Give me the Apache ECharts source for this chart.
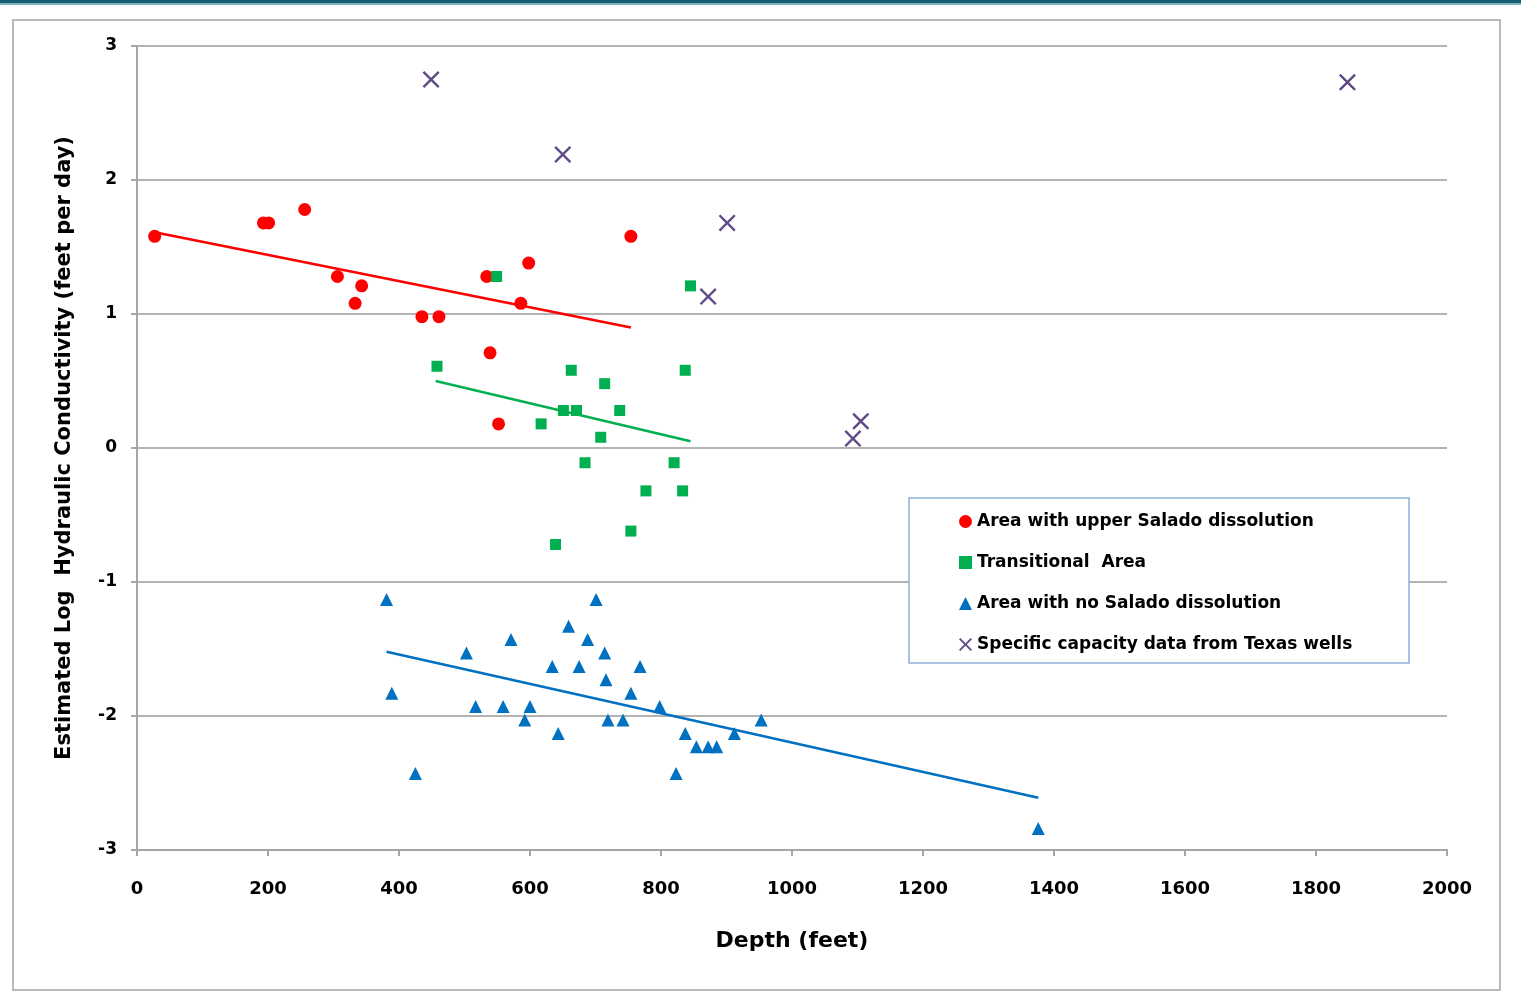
<!DOCTYPE html>
<html>
<head>
<meta charset="utf-8">
<script src="https://cdn.jsdelivr.net/npm/echarts@6/dist/echarts.min.js"></script>
<style>
html,body{margin:0;padding:0;background:#fff;}
#chart{width:1521px;height:995px;}
</style>
</head>
<body>
<div id="chart"></div>
<script>
// ---- Data ----
const seriesNames = [
  'Area with upper Salado dissolution',
  'Transitional  Area',
  'Area with no Salado dissolution',
  'Specific capacity data from Texas wells'
];

const redDepth = [27, 193, 201, 256, 306, 343, 333, 435, 461, 534, 598, 586, 539, 552, 754];
const redLogK  = [1.58, 1.68, 1.68, 1.78, 1.28, 1.21, 1.08, 0.98, 0.98, 1.28, 1.38, 1.08, 0.71, 0.18, 1.58];

const greenDepth = [549, 845, 458, 663, 837, 714, 651, 671, 737, 617, 708, 684, 820, 777, 833, 754, 639];
const greenLogK  = [1.28, 1.21, 0.61, 0.58, 0.58, 0.48, 0.28, 0.28, 0.28, 0.18, 0.08, -0.11, -0.11, -0.32, -0.32, -0.62, -0.72];

const blueDepth = [381, 701, 659, 571, 688, 503, 714, 634, 675, 768, 716, 389, 754, 517, 559, 600, 798, 592, 719, 742, 953, 643, 837, 912, 854, 872, 885, 425, 823, 1376];
const blueLogK  = [-1.13, -1.13, -1.33, -1.43, -1.43, -1.53, -1.53, -1.63, -1.63, -1.63, -1.73, -1.83, -1.83, -1.93, -1.93, -1.93, -1.93, -2.03, -2.03, -2.03, -2.03, -2.13, -2.13, -2.13, -2.23, -2.23, -2.23, -2.43, -2.43, -2.84];

const purpleDepth = [449, 650, 901, 872, 1848, 1093, 1105];
const purpleLogK  = [2.75, 2.19, 1.68, 1.13, 2.73, 0.07, 0.20];

// Linear trendline end points
const redTrendDepth = [27, 754];
const redTrendLogK  = [1.61, 0.90];
const greenTrendDepth = [456, 845];
const greenTrendLogK  = [0.50, 0.05];
const blueTrendDepth = [381, 1376];
const blueTrendLogK  = [-1.52, -2.61];

const xTicks = [0, 200, 400, 600, 800, 1000, 1200, 1400, 1600, 1800, 2000];
const yTicks = [-3, -2, -1, 0, 1, 2, 3];

// ---- helpers ----
const pairs = (xs, ys) => xs.map((x, i) => [x, ys[i]]);
const X_PATH = 'path://M0,1 L1,0 L5,4 L9,0 L10,1 L6,5 L10,9 L9,10 L5,6 L1,10 L0,9 L4,5 Z';

const FONT = '"DejaVu Sans", Verdana, sans-serif';
const colors = { red: '#ff0000', green: '#00b050', blue: '#0070c0', purple: '#5f4a86' };

const chart = echarts.init(document.getElementById('chart'), null, { renderer: 'canvas' });

const option = {
  animation: false,
  backgroundColor: '#ffffff',
  grid: { left: 137, right: 74, top: 46, bottom: 145, containLabel: false },
  graphic: [
    { type: 'rect', shape: { x: 0, y: 0, width: 1521, height: 3 }, style: { fill: '#175d76' }, silent: true },
    { type: 'rect', shape: { x: 0, y: 3, width: 1521, height: 2 }, style: { fill: '#7fb0bf' }, silent: true },
    { type: 'rect', shape: { x: 13, y: 20, width: 1487, height: 970 }, style: { fill: 'none', stroke: '#b9b9b9', lineWidth: 2 }, silent: true, z: -1 },
    { type: 'rect', shape: { x: 909, y: 498, width: 500, height: 165 }, style: { fill: '#ffffff', stroke: '#8eaedb', lineWidth: 1.5 }, silent: true, z: 5 }
  ],
  legend: {
    data: seriesNames,
    orient: 'vertical',
    left: 959,
    top: 513,
    padding: 0,
    itemGap: 24,
    itemWidth: 13,
    itemHeight: 13,
    z: 10,
    textStyle: { fontFamily: FONT, fontWeight: 'bold', fontSize: 17, color: '#000', lineHeight: 15 }
  },
  xAxis: {
    type: 'value',
    min: 0, max: 2000, interval: 200,
    name: 'Depth (feet)',
    nameLocation: 'middle',
    nameGap: 80,
    nameTextStyle: { fontFamily: FONT, fontWeight: 'bold', fontSize: 22, color: '#000' },
    axisLine: { show: true, onZero: false, lineStyle: { color: '#a6a6a6', width: 2 } },
    axisTick: { show: true, length: 6, lineStyle: { color: '#a6a6a6', width: 2 } },
    axisLabel: {
      margin: 30, fontFamily: FONT, fontWeight: 'bold', fontSize: 18, color: '#000',
      formatter: v => xTicks.includes(v) ? String(v) : ''
    },
    splitLine: { show: false }
  },
  yAxis: {
    type: 'value',
    min: -3, max: 3, interval: 1,
    name: 'Estimated Log  Hydraulic Conductivity (feet per day)',
    nameLocation: 'middle',
    nameGap: 62,
    nameTextStyle: { fontFamily: FONT, fontWeight: 'bold', fontSize: 21, color: '#000' },
    axisLine: { show: true, onZero: false, lineStyle: { color: '#a6a6a6', width: 2 } },
    axisTick: { show: true, length: 6, lineStyle: { color: '#a6a6a6', width: 2 } },
    axisLabel: {
      margin: 20, fontFamily: FONT, fontWeight: 'bold', fontSize: 17, color: '#000',
      formatter: v => yTicks.includes(v) ? String(v) : ''
    },
    splitLine: { show: true, lineStyle: { color: '#b3b3b3', width: 2 } }
  },
  series: [
    {
      name: seriesNames[0], type: 'scatter', symbol: 'circle', symbolSize: 13,
      itemStyle: { color: colors.red, opacity: 1 }, data: pairs(redDepth, redLogK), z: 3
    },
    {
      name: seriesNames[1], type: 'scatter', symbol: 'rect', symbolSize: 11,
      itemStyle: { color: colors.green, opacity: 1 }, data: pairs(greenDepth, greenLogK), z: 3
    },
    {
      name: seriesNames[2], type: 'scatter', symbol: 'triangle', symbolSize: 13,
      itemStyle: { color: colors.blue, opacity: 1 }, data: pairs(blueDepth, blueLogK), z: 3
    },
    {
      name: seriesNames[3], type: 'scatter', symbol: X_PATH, symbolSize: 17,
      itemStyle: { color: colors.purple, opacity: 1 }, data: pairs(purpleDepth, purpleLogK), z: 3
    },
    {
      name: 'redTrend', type: 'line', showSymbol: false, symbol: 'none',
      lineStyle: { color: colors.red, width: 2.5 }, data: pairs(redTrendDepth, redTrendLogK), z: 2
    },
    {
      name: 'greenTrend', type: 'line', showSymbol: false, symbol: 'none',
      lineStyle: { color: colors.green, width: 2.5 }, data: pairs(greenTrendDepth, greenTrendLogK), z: 2
    },
    {
      name: 'blueTrend', type: 'line', showSymbol: false, symbol: 'none',
      lineStyle: { color: colors.blue, width: 2.5 }, data: pairs(blueTrendDepth, blueTrendLogK), z: 2
    }
  ]
};

chart.setOption(option);
</script>
</body>
</html>
